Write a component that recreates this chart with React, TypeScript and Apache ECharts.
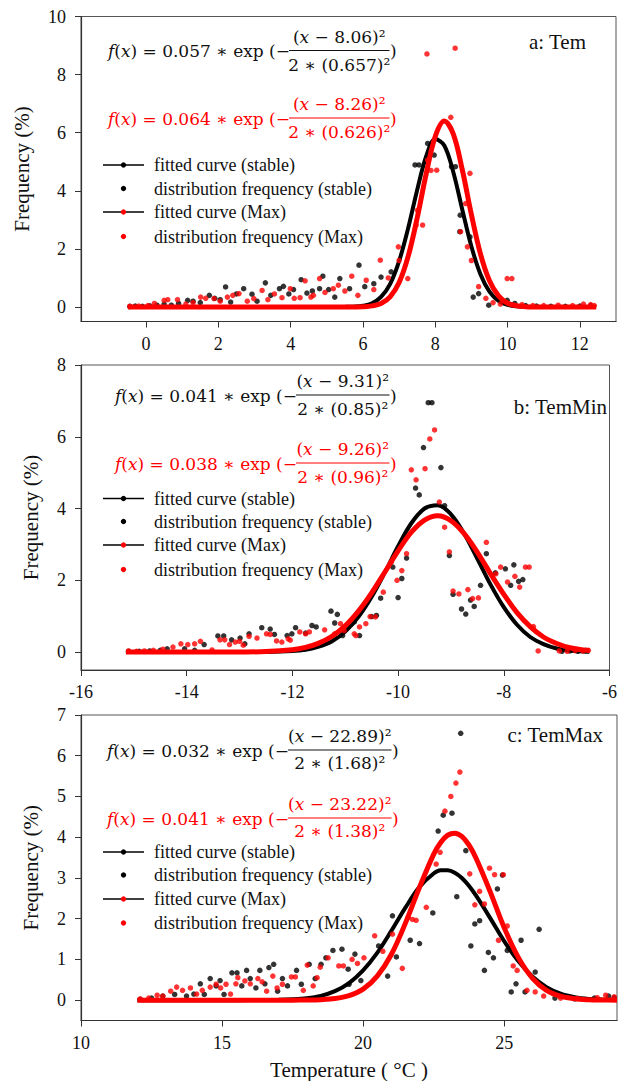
import React, { useEffect, useRef } from "react";
import * as echarts from "echarts";

// ---------- Panel a: Tem ----------
const temTicksX = [0, 2, 4, 6, 8, 10, 12];
const temTicksY = [0, 2, 4, 6, 8, 10];
const temCurveX = [-0.5, 4.5, 5.0, 5.25, 5.5, 5.75, 6.0, 6.25, 6.5, 6.75, 7.0, 7.25, 7.5, 7.75, 8.0, 8.25, 8.5, 8.75, 9.0, 9.25, 9.5, 9.75, 10.0, 10.25, 10.5, 10.75, 11.0, 11.5, 12.45];
const temStableCurve = [0, 0, 0, 0.001, 0.003, 0.012, 0.043, 0.13, 0.35, 0.79, 1.58, 2.71, 4.03, 5.19, 5.78, 5.56, 4.64, 3.34, 2.08, 1.13, 0.53, 0.21, 0.074, 0.022, 0.006, 0.001, 0, 0, 0];
const temMaxCurve = [0, 0, 0, 0, 0, 0.002, 0.009, 0.037, 0.12, 0.35, 0.84, 1.74, 3.06, 4.59, 5.87, 6.4, 5.95, 4.71, 3.18, 1.83, 0.9, 0.38, 0.13, 0.041, 0.011, 0.002, 0, 0, 0];
const temStablePoints = [[-0.45,0.02],[-0.3,0.03],[-0.1,0.02],[0.1,0.04],[0.3,0.06],[0.5,0.1],[0.7,0.06],[0.9,0.12],[1.15,0.23],[1.3,0.2],[1.5,0.15],[1.75,0.4],[1.9,0.3],[2.05,0.25],[2.2,0.69],[2.34,0.17],[2.5,0.45],[2.7,0.63],[2.93,0.44],[3.07,0.2],[3.3,0.83],[3.45,0.4],[3.69,0.63],[3.8,0.71],[3.95,0.45],[4.08,0.6],[4.29,0.94],[4.45,0.48],[4.6,0.55],[4.8,0.63],[4.89,1.06],[5.05,0.6],[5.22,0.34],[5.36,0.98],[5.63,0.63],[5.89,1.44],[6.05,0.7],[6.3,0.8],[6.5,1.03],[6.78,1.21],[7.44,4.89],[7.55,4.89],[7.79,5.63],[7.97,5.23],[8.45,4.83],[8.56,4.83],[8.69,3.16],[8.68,2.59],[8.96,2.41],[9.05,0.34],[9.2,0.46],[9.48,0.06],[9.99,0.23],[10.2,0.12],[10.5,0.05],[10.8,0.03],[11.2,0.02],[11.6,0.02],[12.0,0.03],[12.3,0.05]];
const temMaxPoints = [[-0.45,0.02],[-0.2,0.03],[0.05,0.05],[0.23,0.12],[0.5,0.23],[0.6,0.25],[0.87,0.25],[1.1,0.1],[1.3,0.15],[1.51,0.34],[1.65,0.3],[1.88,0.29],[2.05,0.2],[2.25,0.34],[2.4,0.4],[2.57,0.46],[2.8,0.2],[2.98,0.29],[3.21,0.57],[3.37,0.25],[3.55,0.45],[3.76,0.32],[3.99,0.63],[4.1,0.3],[4.26,0.32],[4.4,0.9],[4.56,0.34],[4.63,0.4],[4.8,0.98],[4.95,0.5],[5.18,0.63],[5.32,0.75],[5.5,0.55],[5.69,1.06],[5.86,0.4],[6.09,0.92],[6.3,0.6],[6.48,1.61],[6.7,1.0],[6.98,2.07],[7.0,1.6],[7.24,0.98],[7.47,2.82],[7.51,3.33],[7.65,2.82],[7.77,8.71],[7.79,5.06],[7.88,4.7],[8.04,4.71],[8.43,6.53],[8.55,8.91],[8.7,2.59],[8.84,3.56],[8.89,2.07],[8.96,4.6],[9.0,1.6],[9.2,0.7],[9.4,0.3],[9.6,0.15],[9.8,0.1],[9.99,0.98],[10.12,0.98],[10.4,0.08],[10.7,0.05],[11.0,0.05],[11.4,0.06],[11.8,0.05],[12.1,0.1],[12.3,0.08],[12.4,0.05]];

// ---------- Panel b: TemMin ----------
const minTicksX = [-16, -14, -12, -10, -8, -6];
const minTicksY = [0, 2, 4, 6, 8];
const minCurveX = [-15.15, -13.5, -13.0, -12.5, -12.0, -11.75, -11.5, -11.25, -11.0, -10.75, -10.5, -10.25, -10.0, -9.75, -9.5, -9.25, -9.0, -8.75, -8.5, -8.25, -8.0, -7.75, -7.5, -7.25, -7.0, -6.75, -6.5, -6.38];
const minStableCurve = [0, 0, 0.0003, 0.004, 0.027, 0.066, 0.15, 0.3, 0.57, 0.98, 1.54, 2.22, 2.95, 3.59, 4.0, 4.09, 3.84, 3.3, 2.6, 1.88, 1.25, 0.76, 0.42, 0.22, 0.1, 0.044, 0.017, 0.01];
const minMaxCurve = [0, 0, 0.002, 0.013, 0.065, 0.13, 0.25, 0.44, 0.73, 1.14, 1.65, 2.23, 2.82, 3.34, 3.68, 3.8, 3.66, 3.3, 2.78, 2.18, 1.61, 1.1, 0.71, 0.42, 0.24, 0.12, 0.061, 0.045];
const minStablePoints = [[-15.1,0.02],[-14.9,0.02],[-14.7,0.03],[-14.5,0.05],[-14.37,0.09],[-14.04,0.09],[-13.85,0.05],[-13.67,0.21],[-13.41,0.45],[-13.3,0.45],[-13.15,0.34],[-12.99,0.39],[-12.9,0.23],[-12.82,0.51],[-12.58,0.68],[-12.42,0.64],[-12.34,0.49],[-12.1,0.46],[-12.01,0.51],[-11.94,0.68],[-11.75,0.53],[-11.63,0.74],[-11.55,0.7],[-11.27,1.14],[-11.2,0.81],[-11.15,1.05],[-11.05,0.46],[-10.83,0.84],[-10.73,0.46],[-10.5,0.99],[-10.41,1.02],[-10.33,1.5],[-10.1,2.37],[-10.0,1.52],[-9.93,2.05],[-9.84,2.62],[-9.67,4.57],[-9.6,4.38],[-9.52,5.7],[-9.43,6.95],[-9.36,6.95],[-9.19,5.14],[-9.12,4.08],[-9.03,2.69],[-8.96,1.61],[-8.8,1.2],[-8.72,1.06],[-8.63,1.45],[-8.56,1.27],[-8.44,1.86],[-8.33,2.74],[-8.16,2.21],[-7.97,2.32],[-7.87,1.86],[-7.81,2.43],[-7.72,1.97],[-7.64,2.02],[-6.9,0.02],[-6.75,0.03],[-6.6,0.02],[-6.45,0.05]];
const minMaxPoints = [[-15.1,0.03],[-14.95,0.02],[-14.8,0.03],[-14.63,0.05],[-14.45,0.08],[-14.26,0.14],[-14.11,0.23],[-13.98,0.21],[-13.85,0.23],[-13.74,0.3],[-13.52,0.06],[-13.37,0.34],[-13.28,0.34],[-13.19,0.21],[-13.08,0.28],[-13.0,0.3],[-12.93,0.19],[-12.82,0.44],[-12.67,0.39],[-12.49,0.51],[-12.42,0.49],[-12.3,0.31],[-12.2,0.28],[-12.08,0.37],[-12.04,0.33],[-11.86,0.56],[-11.75,0.51],[-11.68,0.56],[-11.39,0.62],[-11.2,0.51],[-11.09,0.79],[-11.02,0.6],[-10.83,0.51],[-10.8,0.46],[-10.73,0.7],[-10.61,0.79],[-10.53,0.99],[-10.43,0.98],[-10.28,1.67],[-10.13,2.51],[-10.02,2.0],[-9.93,2.27],[-9.84,2.74],[-9.75,5.08],[-9.66,4.8],[-9.49,5.11],[-9.4,5.94],[-9.31,6.19],[-9.22,4.18],[-9.12,3.48],[-9.03,2.79],[-8.96,1.7],[-8.85,1.62],[-8.68,1.74],[-8.59,1.49],[-8.48,1.51],[-8.33,3.06],[-8.15,2.18],[-8.06,2.37],[-7.93,1.95],[-7.79,2.11],[-7.7,1.81],[-7.59,2.37],[-7.52,2.37],[-7.44,0.71],[-7.35,0.03],[-6.95,0.03],[-6.8,0.02],[-6.65,0.04],[-6.5,0.03],[-6.4,0.05]];

// ---------- Panel c: TemMax ----------
const maxTicksX = [10, 15, 20, 25];
const maxTicksY = [0, 1, 2, 3, 4, 5, 6, 7];
const maxCurveX = [12, 15, 16, 17, 17.5, 18, 18.5, 19, 19.5, 20, 20.5, 21, 21.5, 22, 22.5, 22.75, 23, 23.25, 23.5, 23.75, 24, 24.5, 25, 25.5, 26, 26.5, 27, 27.5, 28, 28.5, 29];
const maxStableCurve = [0, 0, 0.001, 0.007, 0.019, 0.046, 0.105, 0.22, 0.42, 0.73, 1.16, 1.7, 2.27, 2.78, 3.11, 3.19, 3.19, 3.13, 3.0, 2.81, 2.57, 2.02, 1.45, 0.96, 0.58, 0.32, 0.16, 0.074, 0.031, 0.012, 0.004];
const maxMaxCurve = [0, 0, 0, 0, 0, 0.003, 0.012, 0.038, 0.11, 0.27, 0.59, 1.12, 1.89, 2.77, 3.58, 3.87, 4.05, 4.1, 4.02, 3.81, 3.49, 2.67, 1.78, 1.05, 0.54, 0.24, 0.096, 0.033, 0.01, 0.003, 0];
const maxStablePoints = [[12.1,0.02],[12.5,0.05],[12.9,0.1],[13.32,0.14],[13.74,0.1],[14.0,0.15],[14.23,0.4],[14.37,0.14],[14.58,0.53],[14.79,0.35],[14.93,0.48],[15.07,0.14],[15.35,0.67],[15.53,0.67],[15.7,0.35],[15.87,0.73],[16.0,0.53],[16.2,0.3],[16.34,0.73],[16.52,0.4],[16.66,0.8],[16.83,0.88],[16.97,0.22],[17.14,0.53],[17.32,0.35],[17.64,0.73],[17.81,0.39],[18.09,0.88],[18.3,0.53],[18.51,0.88],[18.68,1.04],[18.93,1.22],[19.25,1.25],[19.47,0.76],[19.5,0.39],[19.71,1.13],[19.92,0.48],[20.55,1.33],[20.87,0.59],[21.04,2.07],[21.18,1.06],[21.67,1.47],[22.0,1.39],[22.47,2.14],[22.66,4.15],[22.84,4.54],[23.15,4.59],[23.32,2.54],[23.46,6.55],[23.64,3.67],[23.82,1.33],[23.96,1.87],[24.13,1.95],[24.3,0.73],[24.44,1.17],[24.62,1.04],[24.76,2.73],[24.94,3.07],[25.11,1.22],[25.25,0.2],[25.42,0.4],[25.6,1.47],[25.74,0.2],[26.1,0.69],[26.24,1.74],[26.8,0.05],[27.5,0.03],[28.2,0.05],[28.7,0.1],[28.9,0.06]];
const maxMaxPoints = [[12.1,0.03],[12.4,0.05],[12.7,0.12],[12.9,0.1],[13.18,0.22],[13.39,0.32],[13.6,0.24],[13.88,0.3],[14.1,0.15],[14.3,0.24],[14.58,0.32],[14.79,0.39],[14.95,0.3],[15.14,0.39],[15.3,0.15],[15.49,0.4],[15.56,0.55],[15.81,0.47],[16.0,0.4],[16.27,0.53],[16.42,0.45],[16.58,0.22],[16.8,0.59],[16.95,0.3],[17.14,0.39],[17.46,0.57],[17.6,0.57],[17.88,0.24],[18.02,0.86],[18.23,0.35],[18.37,0.55],[18.48,0.81],[18.76,1.04],[19.14,0.84],[19.3,0.84],[19.61,1.0],[19.8,0.9],[20.03,1.04],[20.41,1.58],[20.7,1.2],[21.04,1.62],[21.39,0.78],[21.6,2.03],[21.75,1.98],[21.88,1.96],[22.24,2.28],[22.59,3.34],[22.73,3.63],[22.9,4.64],[23.11,5.0],[23.29,5.33],[23.43,5.6],[23.78,3.1],[23.96,2.34],[24.13,2.67],[24.3,2.36],[24.48,3.24],[24.66,3.08],[24.8,1.47],[24.97,3.08],[25.11,1.82],[25.32,0.84],[25.46,0.73],[25.81,0.24],[26.1,0.2],[26.4,0.1],[27.0,0.05],[27.6,0.04],[28.3,0.06],[28.6,0.12],[28.9,0.08]];

// ---------- texts ----------
const panelLabels = ["a: Tem", "b: TemMin", "c: TemMax"];
const legendLabels = ["fitted curve (stable)", "distribution frequency (stable)", "fitted curve (Max)", "distribution frequency (Max)"];
const formulaAmp = [["0.057", "0.064"], ["0.041", "0.038"], ["0.032", "0.041"]];
const formulaMu = [["8.06", "8.26"], ["9.31", "9.26"], ["22.89", "23.22"]];
const formulaSigma = [["0.657", "0.626"], ["0.85", "0.96"], ["1.68", "1.38"]];
const yTitle = "Frequency (%)";
const xTitle = "Temperature ( \u00B0C )";

const SERIF = '"Liberation Serif", "Times New Roman", serif';
const MATHF = '"DejaVu Serif", serif';
const RED = "#ff0000";
const BLACK = "#000000";
const AXIS = "#333333";

const zip = (xs: number[], ys: number[]) => xs.map((x, i) => [x, ys[i]]);

const panels = [
  {
    grid: { left: 81, top: 16.5, width: 535, height: 305 },
    xMin: -1.8, xMax: 13, yMin: -0.5, yMax: 10,
    xTicks: temTicksX, yTicks: temTicksY,
    curveX: temCurveX, stableCurve: temStableCurve, maxCurve: temMaxCurve,
    stablePts: temStablePoints, maxPts: temMaxPoints,
    labelPos: [586, 42],
    legendRows: [165, 188.5, 212, 236.5],
    yTitleX: 22,
    f: [
      { barX1: 289, barX2: 389.5, barY: 50.5, numY: 36.5, denY: 64.5 },
      { barX1: 289, barX2: 389.5, barY: 118, numY: 104, denY: 132 },
    ],
  },
  {
    grid: { left: 81, top: 365, width: 536, height: 305 },
    xMin: -16, xMax: -6, yMin: -0.5, yMax: 8,
    xTicks: minTicksX, yTicks: minTicksY,
    curveX: minCurveX, stableCurve: minStableCurve, maxCurve: minMaxCurve,
    stablePts: minStablePoints, maxPts: minMaxPoints,
    labelPos: [607, 407],
    legendRows: [498.5, 521.5, 545, 569.5],
    yTitleX: 31,
    f: [
      { barX1: 296, barX2: 389.5, barY: 395, numY: 381, denY: 409 },
      { barX1: 296, barX2: 389.5, barY: 463, numY: 448.5, denY: 476.5 },
    ],
  },
  {
    grid: { left: 81, top: 715, width: 536, height: 305.5 },
    xMin: 10, xMax: 29, yMin: -0.5, yMax: 7,
    xTicks: maxTicksX, yTicks: maxTicksY,
    curveX: maxCurveX, stableCurve: maxStableCurve, maxCurve: maxMaxCurve,
    stablePts: maxStablePoints, maxPts: maxMaxPoints,
    labelPos: [603, 735],
    legendRows: [852, 875, 899, 923],
    yTitleX: 31,
    f: [
      { barX1: 288, barX2: 391.5, barY: 750, numY: 735.5, denY: 763 },
      { barX1: 288, barX2: 391.5, barY: 818, numY: 803.5, denY: 831 },
    ],
  },
];

function formulaElements(p: number, k: number, color: string, pos: any) {
  const font = `17px ${MATHF}`;
  const ifont = `italic 17px ${MATHF}`;
  const rich = { i: { font: ifont, fill: color } };
  const cx = (pos.barX1 + pos.barX2) / 2;
  return [
    {
      type: "text", x: pos.barX1 + 1, y: pos.barY + 0.5,
      style: { text: `{i|f}({i|x}) = ${formulaAmp[p][k]} \u2217 exp (\u2212`, font, fill: color, align: "right", verticalAlign: "middle", rich },
    },
    {
      type: "line",
      shape: { x1: pos.barX1, y1: pos.barY, x2: pos.barX2, y2: pos.barY },
      style: { stroke: color, lineWidth: 1.2 },
    },
    {
      type: "text", x: cx, y: pos.numY,
      style: { text: `({i|x} \u2212 ${formulaMu[p][k]})\u00B2`, font, fill: color, align: "center", verticalAlign: "middle", rich },
    },
    {
      type: "text", x: cx, y: pos.denY,
      style: { text: `2 \u2217 (${formulaSigma[p][k]})\u00B2`, font, fill: color, align: "center", verticalAlign: "middle" },
    },
    {
      type: "text", x: pos.barX2 + 0.5, y: pos.barY + 0.5,
      style: { text: ")", font, fill: color, align: "left", verticalAlign: "middle" },
    },
  ];
}

function legendElements(rows: number[]) {
  const font = `18px ${SERIF}`;
  const els: any[] = [];
  const lx1 = 103, lx2 = 144, dx = 123.5, tx = 154;
  rows.forEach((y, i) => {
    if (i === 0 || i === 2) {
      els.push({ type: "line", shape: { x1: lx1, y1: y, x2: lx2, y2: y }, style: { stroke: BLACK, lineWidth: 1.5 } });
    }
    els.push({ type: "circle", shape: { cx: dx, cy: y, r: 2.7 }, style: { fill: i < 2 ? BLACK : RED } });
    els.push({ type: "text", x: tx, y: y, style: { text: legendLabels[i], font, fill: "#111", align: "left", verticalAlign: "middle" } });
  });
  return els;
}

export default function App() {
  const ref = useRef<HTMLDivElement>(null);
  useEffect(() => {
    if (!ref.current) return;
    const chart = echarts.init(ref.current, undefined, { renderer: "svg" });
    const grids: any[] = [];
    const xAxes: any[] = [];
    const yAxes: any[] = [];
    const series: any[] = [];
    const graphic: any[] = [];
    panels.forEach((p, i) => {
      grids.push({ ...p.grid, show: true, borderColor: "#555", borderWidth: 1, containLabel: false });
      const axisCommon = {
        type: "value",
        gridIndex: i,
        axisLine: { show: true, onZero: false, lineStyle: { color: AXIS, width: 1.2 } },
        splitLine: { show: false },
      };
      xAxes.push({
        ...axisCommon,
        min: p.xMin, max: p.xMax,
        axisTick: { show: true, inside: false, length: 6, customValues: p.xTicks, lineStyle: { color: AXIS } },
        axisLabel: { customValues: p.xTicks, margin: 13, fontSize: 18, fontFamily: SERIF, color: "#111" },
      });
      yAxes.push({
        ...axisCommon,
        min: p.yMin, max: p.yMax,
        axisTick: { show: true, inside: false, length: 6, customValues: p.yTicks, lineStyle: { color: AXIS } },
        axisLabel: { customValues: p.yTicks, margin: 15, fontSize: 18, fontFamily: SERIF, color: "#111" },
      });
      const curveCommon = {
        type: "line", xAxisIndex: i, yAxisIndex: i, smooth: 0.35,
        showSymbol: false, symbol: "none", silent: true,
      };
      series.push({ ...curveCommon, name: legendLabels[0], data: zip(p.curveX, p.stableCurve), lineStyle: { color: BLACK, width: 4 }, z: 2 });
      series.push({ type: "scatter", name: legendLabels[1], xAxisIndex: i, yAxisIndex: i, data: p.stablePts, symbolSize: 5.5, itemStyle: { color: BLACK }, z: 3 });
      series.push({ ...curveCommon, name: legendLabels[2], data: zip(p.curveX, p.maxCurve), lineStyle: { color: RED, width: 5 }, z: 4 });
      series.push({ type: "scatter", name: legendLabels[3], xAxisIndex: i, yAxisIndex: i, data: p.maxPts, symbolSize: 5.5, itemStyle: { color: RED }, z: 5 });

      graphic.push(...formulaElements(i, 0, "#111111", p.f[0]));
      graphic.push(...formulaElements(i, 1, RED, p.f[1]));
      graphic.push(...legendElements(p.legendRows));
      graphic.push({
        type: "text", x: p.labelPos[0], y: p.labelPos[1],
        style: { text: panelLabels[i], font: `21px ${SERIF}`, fill: "#111", align: "right", verticalAlign: "middle" },
      });
      graphic.push({
        type: "text", x: p.yTitleX, y: p.grid.top + p.grid.height / 2, rotation: Math.PI / 2,
        style: { text: yTitle, font: `21px ${SERIF}`, fill: "#111", align: "center", verticalAlign: "middle" },
      });
    });
    graphic.push({
      type: "text", x: 349, y: 1070,
      style: { text: xTitle, font: `21px ${SERIF}`, fill: "#111", align: "center", verticalAlign: "middle" },
    });

    chart.setOption({
      animation: false,
      backgroundColor: "#ffffff",
      textStyle: { fontFamily: SERIF },
      grid: grids,
      xAxis: xAxes,
      yAxis: yAxes,
      series,
      graphic: { elements: graphic },
    });
    return () => chart.dispose();
  }, []);
  return (
    <div
      ref={ref}
      style={{ position: "fixed", left: 0, top: 0, width: 620, height: 1081, background: "#fff" }}
    />
  );
}
